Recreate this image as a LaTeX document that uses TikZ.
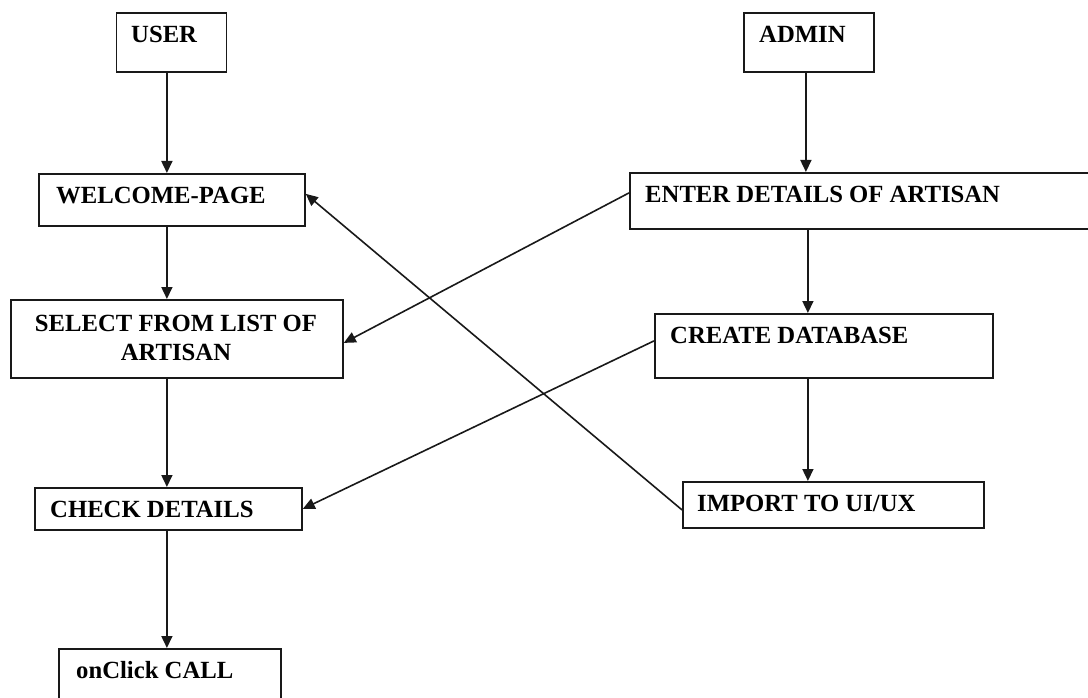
\documentclass[tikz,border=0pt]{standalone}
\usepackage{fontspec}
\setmainfont{Liberation Serif}
\usetikzlibrary{arrows.meta}
\tikzset{
  box/.style={draw=black!90, line width=1.8pt, inner sep=0pt, anchor=north west, fill=white},
  txt/.style={inner sep=0pt, anchor=base west, font=\fontsize{24.7}{29}\bfseries\selectfont, text=black},
  txtc/.style={txt, anchor=base},
  arr/.style={draw=black!90, line width=1.6pt, -{Triangle[length=12pt,width=11pt]}},
}
\begin{document}
\begin{tikzpicture}[x=1pt,y=-1pt]
\useasboundingbox (0,0) rectangle (1088,698);
% boxes
\node[box, minimum width=110pt, minimum height=59pt] (user) at (115.5,12) {};
\node[box, minimum width=130pt, minimum height=59pt] (admin) at (743,12) {};
\node[box, minimum width=266pt, minimum height=52pt] (welcome) at (38,173) {};
\node[box, minimum width=466pt, minimum height=56pt] (enter) at (629,172) {};
\node[box, minimum width=332pt, minimum height=78pt] (select) at (10,299) {};
\node[box, minimum width=338pt, minimum height=64pt] (create) at (654,313) {};
\node[box, minimum width=267pt, minimum height=42pt] (check) at (34,487) {};
\node[box, minimum width=301pt, minimum height=46pt] (import) at (682,481) {};
\node[box, minimum width=222pt, minimum height=62pt] (call) at (58,648) {};
% texts
\node[txt] (usert) at (131,43) {USER};
\node[txt] (admint) at (759,43) {ADMIN};
\node[txt] (welcomet) at (56,204) {WELCOME-PAGE};
\node[txt] (entert) at (645,203) {ENTER DETAILS OF ARTISAN};
\node[txtc] (selectta) at (176,331) {SELECT FROM LIST OF};
\node[txtc] (selecttb) at (176,360) {ARTISAN};
\node[txt] (createt) at (670,343) {CREATE DATABASE};
\node[txt] (checkt) at (50,517) {CHECK DETAILS};
\node[txt] (importt) at (697,511) {IMPORT TO UI/UX};
\node[txt] (callt) at (76,678) {onClick CALL};
% vertical connectors
\draw[arr] ([xshift=-4.5pt]user.south) -- ([xshift=-4.5pt]user.south |- welcome.north);
\draw[arr] ([xshift=-5pt]welcome.south) -- ([xshift=-5pt]welcome.south |- select.north);
\draw[arr] ([xshift=-5pt]welcome.south |- select.south) -- ([xshift=-5pt]welcome.south |- check.north);
\draw[arr] ([xshift=-5pt]welcome.south |- check.south) -- ([xshift=-5pt]welcome.south |- call.north);
\draw[arr] ([xshift=-3pt]admin.south) -- ([xshift=-3pt]admin.south |- enter.north);
\draw[arr] ([xshift=-16pt]create.north |- enter.south) -- ([xshift=-16pt]create.north);
\draw[arr] ([xshift=-16pt]create.south) -- ([xshift=-16pt]create.south |- import.north);
% diagonal connectors
\draw[arr] ([yshift=8pt]enter.west) -- ([yshift=-4pt]select.east);
\draw[arr] ([yshift=5pt]create.west) -- (check.east);
\draw[arr] ([yshift=-5pt]import.west) -- ([yshift=6pt]welcome.east);
\end{tikzpicture}
\end{document}
